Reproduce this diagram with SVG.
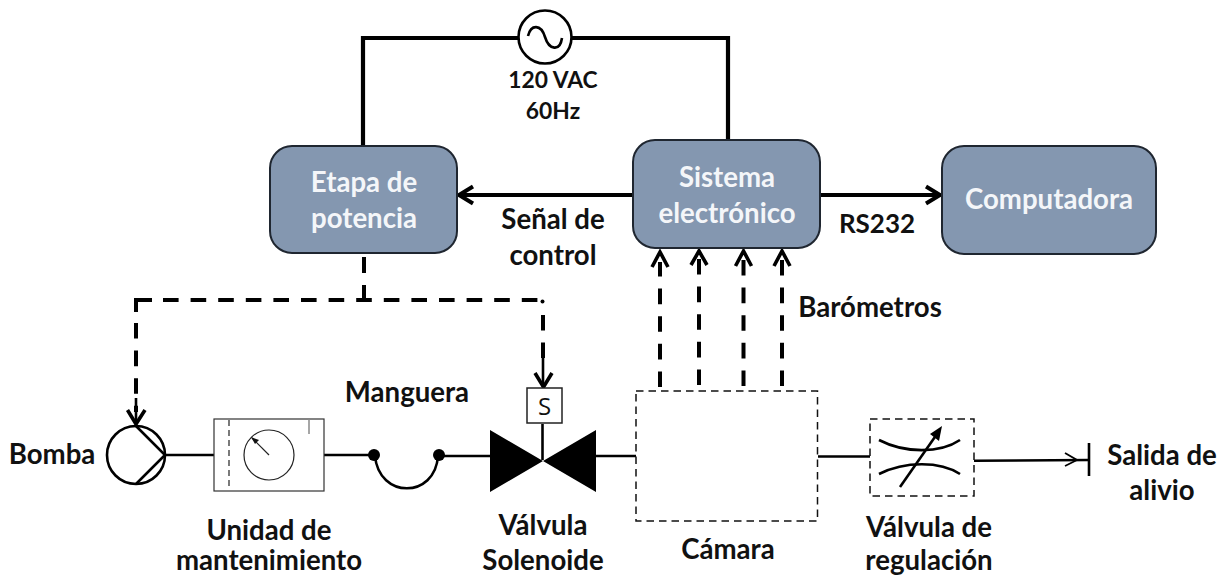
<svg xmlns="http://www.w3.org/2000/svg" width="1229" height="576" viewBox="0 0 1229 576">
<style>
text{font-family:Lato,"Liberation Sans",sans-serif;font-weight:700;font-size:27.600px;fill:#111;text-anchor:middle}
text.w{fill:#f4f6f9}
text.n{font-size:22.800px}
.box{fill:#8497b0;stroke:#1f2630;stroke-width:2}
.th{fill:none;stroke:#000;stroke-width:4.200}
.da{fill:none;stroke:#000;stroke-width:4;stroke-dasharray:15.600 12}
.so{fill:none;stroke:#000;stroke-width:4}
.m{fill:none;stroke:#000;stroke-width:2.600}
.t{fill:none;stroke:#222;stroke-width:1.200}
.dd{fill:none;stroke:#111;stroke-width:1.500;stroke-dasharray:7.500 5}
.ah{fill:none;stroke:#000;stroke-width:4}
</style>
<g id="connectors">
<path class="th" d="M363 146V38H519M571 38H728V140"/>
<path class="th" d="M633 195H460"/><path class="ah" d="M473 186.500L459 195L473 203.500"/>
<path class="th" d="M820 195H938"/><path class="ah" d="M926 186.500L940 195L926 203.500"/>
<path class="so" d="M364 257V273M364 285V300M152 300H136V312"/>
<path class="da" d="M163 300H538"/>
<path class="da" d="M136 323V412"/>
<path class="m" d="M136 398V423"/>
<path class="da" d="M543 315V358"/>
<path class="m" d="M543 350V387"/>
<circle cx="542.500" cy="301.500" r="2" fill="#000"/>
<path class="ah" d="M127.500 410L136 424L145 410" style="stroke-width:3.600"/>
<path class="ah" d="M535 373L543.500 387L552 373" style="stroke-width:3.600"/>
<path class="da" d="M660 387V262"/><path class="da" d="M699 385V252"/><path class="da" d="M743.500 386V252"/><path class="da" d="M782 386V252"/>
<path class="ah" d="M652 267L660 252L668 267M691 265L699 251L707 265M735.500 266L743.500 251L751.500 266M774 266L782 251L790 266" style="stroke-width:3.600"/>
<path class="m" d="M166 455H214M324 455H374M439 456H491M596 456H636M818 456.500H870"/>
<path class="m" d="M974 460.700L1089 460"/><path class="m" d="M1065 453L1077 460L1065 466" style="stroke-width:1.800"/>
<path class="m" d="M542.500 424V460"/>
</g>
<g id="ac-source"><circle class="m" cx="545" cy="37" r="26.500" style="fill:#fff"/><path class="m" d="M528 36C531 24 541 24 545 37C549 50 560 52 562 38"/></g>
<g id="etapa"><rect class="box" x="270" y="146" width="187" height="107" rx="22"/><text class="w" x="364" y="192">Etapa de</text><text class="w" x="364" y="228">potencia</text></g>
<g id="sistema"><rect class="box" x="633" y="140" width="187" height="108" rx="22"/><text class="w" x="727" y="187">Sistema</text><text class="w" x="727" y="223">electrónico</text></g>
<g id="computadora"><rect class="box" x="942" y="146" width="214" height="108" rx="22"/><text class="w" x="1049" y="209">Computadora</text></g>
<g id="bomba"><circle class="m" cx="136" cy="455" r="29"/><path class="m" d="M136 426L165 455L136 484"/></g>
<g id="unidad"><rect x="214" y="419" width="110" height="72" fill="#fff" stroke="#333" stroke-width="1.200"/><path d="M229 420V490" stroke="#222" stroke-width="1.200" stroke-dasharray="6 4"/><circle class="t" cx="269" cy="455" r="25"/><path class="t" d="M269 455L252 438"/><path d="M251 437L259 440L255 444Z" fill="#111"/><path d="M309 419V434" stroke="#888" stroke-width="1.500"/></g>
<g id="manguera"><circle cx="374" cy="455" r="6" fill="#000"/><circle cx="439" cy="455" r="6" fill="#000"/><path class="m" d="M375 456C379 499 435 499 438 456"/></g>
<g id="valvula-solenoide"><path d="M490 430L543 461L490 492ZM596 430L543 461L596 492Z" fill="#000"/><rect x="527" y="388" width="35" height="35" fill="#fff" stroke="#222" stroke-width="1.500"/><text x="544.500" y="415" style="font-weight:400;font-family:'Open Sans',sans-serif;font-size:24px">S</text></g>
<g id="camara"><rect class="dd" x="636" y="391" width="181.500" height="130"/></g>
<g id="valvula-regulacion"><rect class="dd" x="870" y="419" width="104" height="77"/><path class="m" d="M879 440C905 453.500 940 453.500 960 440M879 474C905 461 940 461 960 474"/><path class="m" d="M900 487L937 434"/><path d="M942 426L930 434L939 441Z" fill="#000"/></g>
<g id="salida"><path class="m" d="M1089 443V476"/></g>
<g id="labels">
<text class="n" x="553" y="88">120 VAC</text><text class="n" x="553" y="119">60Hz</text>
<text x="553" y="229">Señal de</text><text x="553" y="265">control</text>
<text x="877" y="233" style="font-size:26px">RS232</text><text x="870" y="317">Barómetros</text>
<text x="407" y="402">Manguera</text><text x="52" y="464">Bomba</text>
<text x="269" y="540">Unidad de</text><text x="269" y="570">mantenimiento</text>
<text x="543" y="535">Válvula</text><text x="543" y="570">Solenoide</text>
<text x="728" y="559">Cámara</text>
<text x="929" y="537">Válvula de</text><text x="929" y="570">regulación</text>
<text x="1162" y="465">Salida de</text><text x="1162" y="500">alivio</text>
</g>
</svg>
